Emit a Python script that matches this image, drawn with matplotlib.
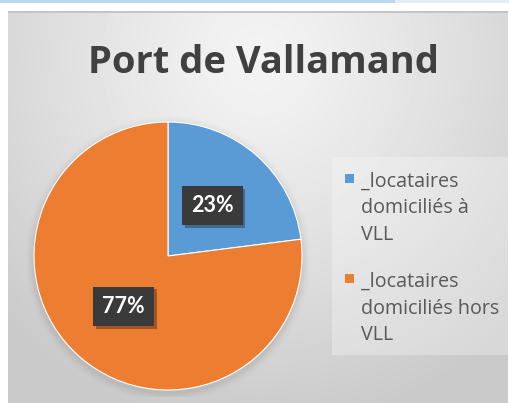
import numpy as np
import matplotlib
matplotlib.use("Agg")
import matplotlib.pyplot as plt
from matplotlib.patches import Rectangle
import matplotlib.patheffects as pe

# ---- data ----
title = "Port de Vallamand"
categories = ["_locataires\ndomiciliés à\nVLL", "_locataires\ndomiciliés hors\nVLL"]
values = [23, 77]
colors = ["#5B9BD5", "#ED7D31"]

W, H = 509, 403
fig = plt.figure(figsize=(W / 100, H / 100), dpi=100)
fig.patch.set_facecolor("white")
renderer = fig.canvas.get_renderer()

def fx(px):
    return px / W

def fy(py):
    return 1 - py / H

def fit_width(t, target_px):
    w = t.get_window_extent(renderer).width
    t.set_fontsize(t.get_fontsize() * target_px / w)

# top light-blue strip
fig.patches.append(Rectangle((0, fy(3)), fx(395), 3 / H, transform=fig.transFigure,
                             facecolor="#BDD7EE", edgecolor="none", zorder=0))
fig.patches.append(Rectangle((fx(395), fy(3)), 1 - fx(395), 3 / H, transform=fig.transFigure,
                             facecolor="#E3EEF8", edgecolor="none", zorder=0))

# chart area background with radial gradient
x0, y0, x1, y1 = 8, 11, 508, 403
bg = fig.add_axes([fx(x0), fy(y1), fx(x1 - x0), (y1 - y0) / H], zorder=0)
gw, gh = x1 - x0, y1 - y0
yy, xx = np.mgrid[0:gh, 0:gw]
cx, cy = gw * 0.5, gh * 0.12
d = np.sqrt(((xx - cx) / (gw * 0.72)) ** 2 + ((yy - cy) / (gh * 0.95)) ** 2)
d = np.clip(d, 0, 1)
light, dark = 0.955, 0.79
img = light - (light - dark) * d ** 1.2
bg.imshow(img, cmap="gray", vmin=0, vmax=1, aspect="auto", extent=[0, gw, gh, 0])
bg.plot([0, gw], [0.8, 0.8], color="#BFBFBF", lw=1.2)
bg.set_xlim(0, gw)
bg.set_ylim(gh, 0)
bg.axis("off")

# title
tt = fig.text(fx(264), fy(73), title, ha="center", va="baseline", fontsize=27,
              fontweight="bold", color="#404040", family="Open Sans")
fit_width(tt, 350)

# legend background
fig.patches.append(Rectangle((fx(332), fy(355)), fx(508 - 332), (355 - 157) / H,
                             transform=fig.transFigure, facecolor="white", alpha=0.28,
                             edgecolor="none", zorder=1))

# pie
R = 134
pcx, pcy = 168, 256
ax = fig.add_axes([0, 0, 1, 1], zorder=2)
# soft shadow
for i, a in enumerate(np.linspace(0.025, 0.005, 6)):
    ax.add_patch(plt.Circle((0.0, -0.02), 1.0 + 0.012 * (i + 1), color="black",
                            alpha=a, zorder=0, lw=0))
wedges, texts = ax.pie(values, colors=colors, startangle=90, counterclock=False,
                       radius=1, labels=[f"{v}%" for v in values], labeldistance=0.5,
                       wedgeprops=dict(linewidth=0.8, edgecolor="white"))
for t in texts:
    t.set_fontsize(15.5)
    t.set_fontweight("bold")
    t.set_color("white")
    t.set_family("Lato")
    t.set_ha("center")
    t.set_va("center")
    t.set_bbox(dict(boxstyle="square,pad=0.42", facecolor="#3A3A3A", edgecolor="none"))
    t.get_bbox_patch().set_path_effects([pe.SimplePatchShadow(offset=(2, -2), alpha=0.35),
                                         pe.Normal()])
ax.set_xlim(-1.05, 1.05)
ax.set_ylim(-1.05, 1.05)
ax.set_aspect("equal")
ax.axis("off")
ax.set_position([fx(pcx - R * 1.05), fy(pcy + R * 1.05), 2 * R * 1.05 / W, 2 * R * 1.05 / H])

# legend font size: fit the longest line to the reference width
probe = fig.text(0, 0, "domiciliés hors", fontsize=12, family="Open Sans")
fit_width(probe, 138)
leg_fs = probe.get_fontsize()
probe.remove()

# legend (drawn manually so the swatch aligns with the first line)
first_baselines = [187, 287]
pitch = 26.5
for lab, col, b0 in zip(categories, colors, first_baselines):
    fig.patches.append(Rectangle((fx(345), fy(b0 - 4)), fx(9), 9 / H,
                                 transform=fig.transFigure, facecolor=col,
                                 edgecolor="none", zorder=3))
    for k, line in enumerate(lab.split("\n")):
        fig.text(fx(361), fy(b0 + k * pitch), line, ha="left", va="baseline",
                 fontsize=leg_fs, color="#595959", family="Open Sans", zorder=3)

fig.savefig("out.png", dpi=100, facecolor="white")
